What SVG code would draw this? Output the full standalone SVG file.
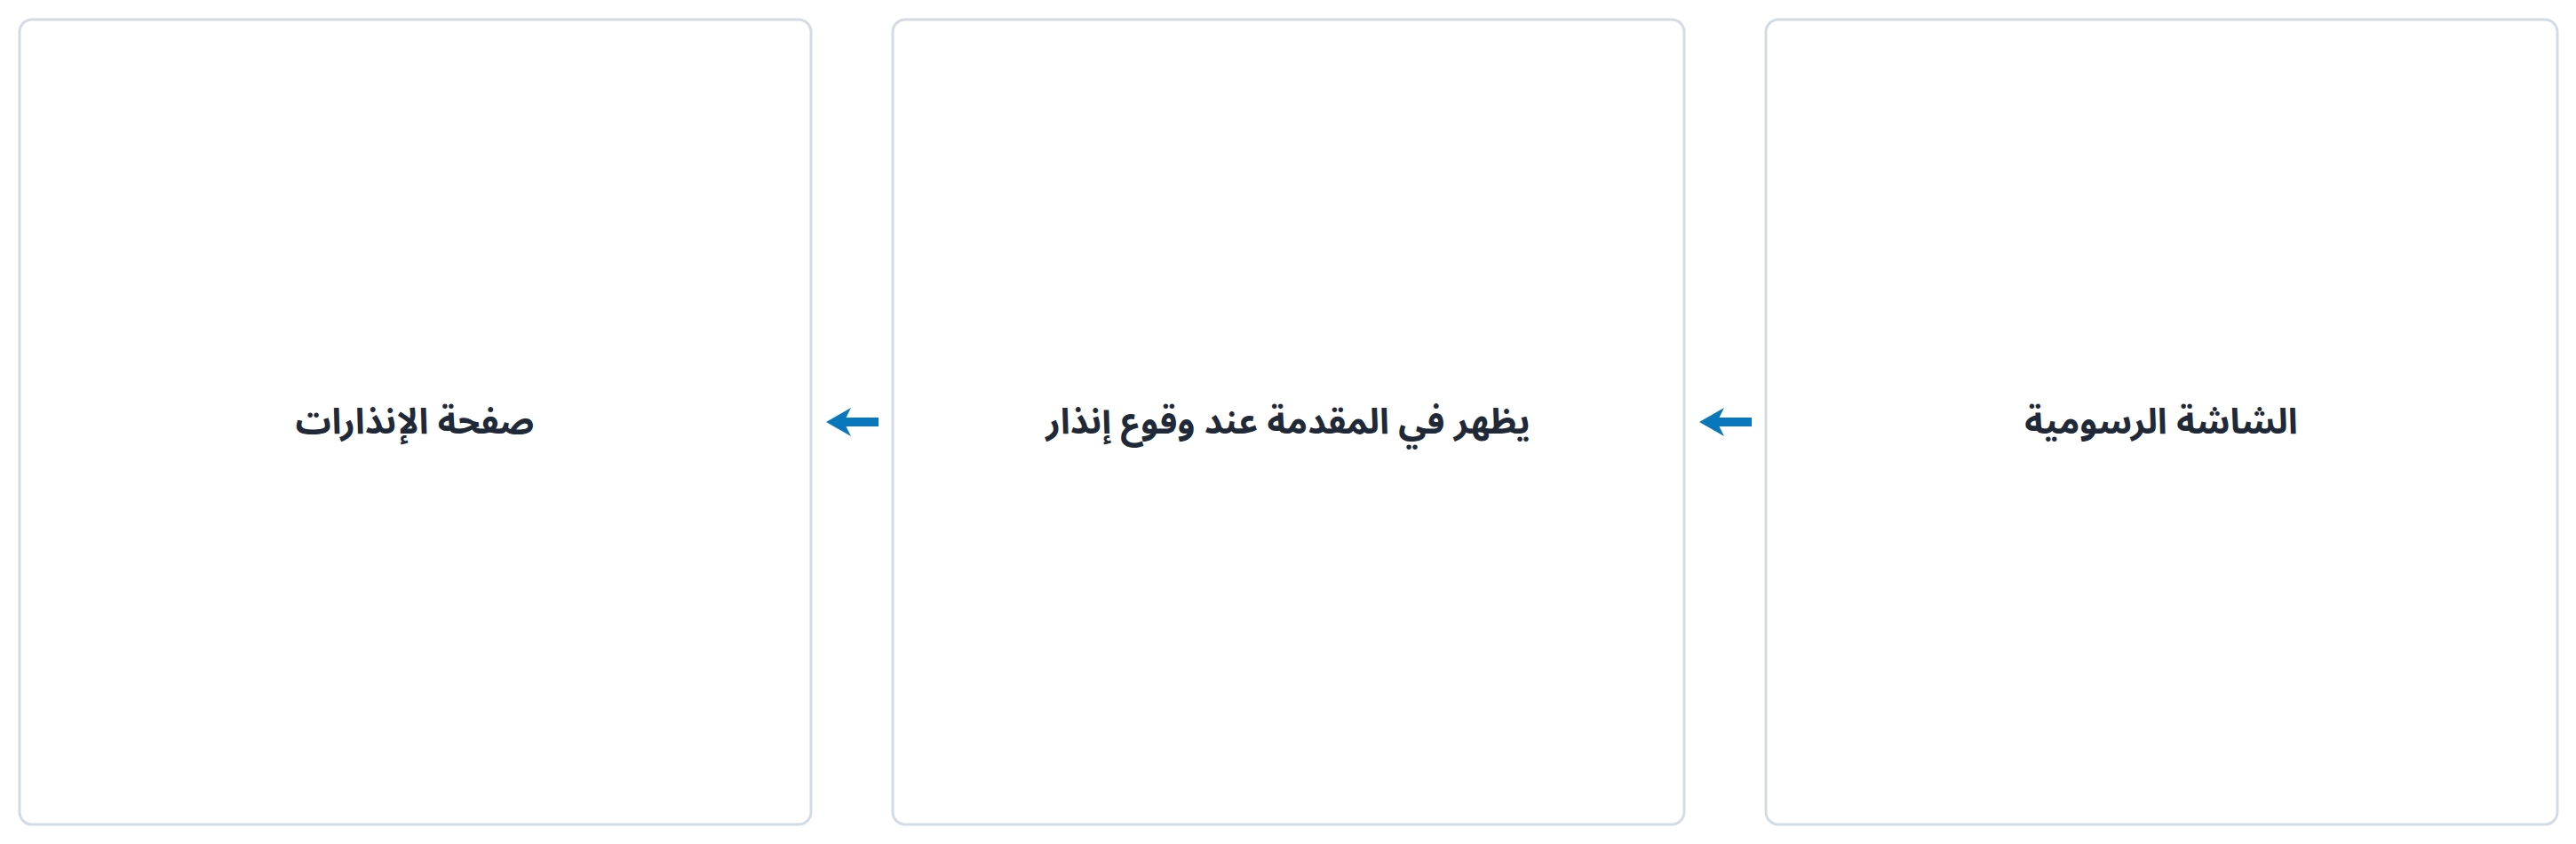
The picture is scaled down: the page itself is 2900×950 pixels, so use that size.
<svg xmlns="http://www.w3.org/2000/svg" width="2900" height="950" viewBox="0 0 2900 950">
<style>
.box{fill:#ffffff;stroke:#d3dbe4;stroke-width:3}
.lbl{font-family:"Noto Sans Arabic","Noto Sans Arabic UI","Noto Naskh Arabic","Noto Sans","DejaVu Sans",sans-serif;font-weight:bold;font-size:40px;fill:#1f2937;text-anchor:middle;dominant-baseline:central}
.edge{stroke:#0877bb;stroke-width:10;fill:none}
</style>
<defs>
<marker id="ah" markerUnits="userSpaceOnUse" markerWidth="30" markerHeight="34" viewBox="0 0 30 34" refX="8" refY="17" orient="auto">
<path d="M0,1 L28,17 L0,33 L8,17 Z" fill="#0877bb"/>
</marker>
</defs>
<rect width="2900" height="950" fill="#ffffff"/>
<g id="node-alerts">
<rect class="box" x="22" y="22" width="891" height="906" rx="14"/>
<text class="lbl" x="467" y="475" direction="rtl">صفحة الإنذارات</text>
</g>
<g id="node-foreground">
<rect class="box" x="1005" y="22" width="891" height="906" rx="14"/>
<text class="lbl" x="1450" y="475" direction="rtl">يظهر في المقدمة عند وقوع إنذار</text>
</g>
<g id="node-graphic">
<rect class="box" x="1988" y="22" width="891" height="906" rx="14"/>
<text class="lbl" x="2433" y="475" direction="rtl">الشاشة الرسومية</text>
</g>
<g id="connectors">
<line class="edge" x1="989" y1="475" x2="950" y2="475" marker-end="url(#ah)"/>
<line class="edge" x1="1972" y1="475" x2="1933" y2="475" marker-end="url(#ah)"/>
</g>
</svg>
